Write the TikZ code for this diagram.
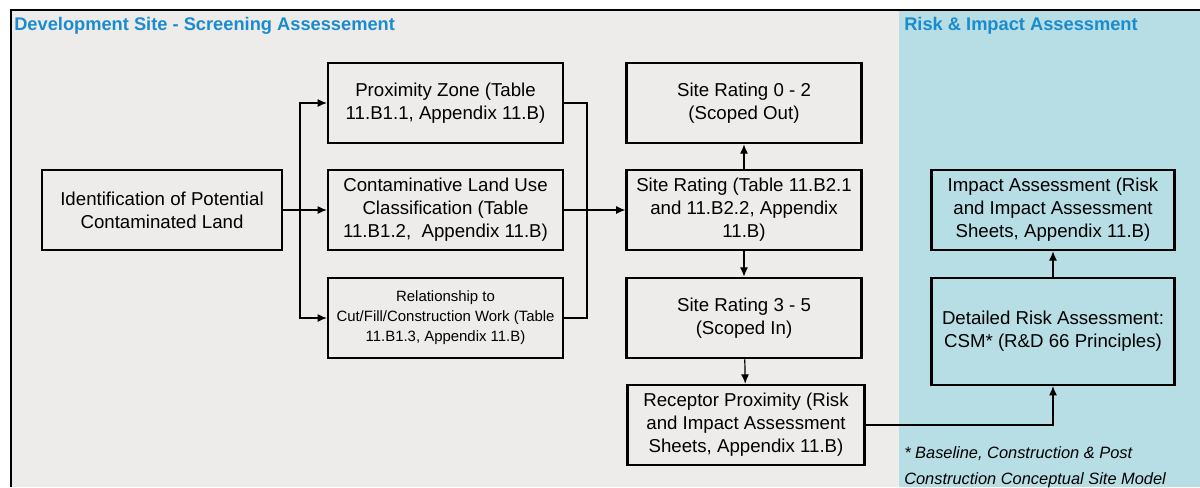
\documentclass[tikz,border=0pt]{standalone}
\usepackage{fontspec}
\setmainfont{Liberation Sans}
\usetikzlibrary{arrows.meta}
\definecolor{sitegrey}{RGB}{237,236,234}
\definecolor{riskblue}{RGB}{183,221,229}
\definecolor{headblue}{RGB}{26,140,205}
\tikzset{
  stage/.style={draw, line width=1.9pt, minimum width=176pt, minimum height=60pt,
    align=center, font=\fontsize{14}{17.25}\selectfont, inner sep=2pt},
  heading/.style={anchor=base west, inner sep=0pt, text=headblue,
    font=\fontsize{13.7}{15}\selectfont\bfseries},
  link/.style={line width=0.9pt}
}
\begin{document}
\begin{tikzpicture}[>={Latex[length=7pt,width=6pt]}, x=0.75pt, y=-0.75pt]
    \useasboundingbox (0,0) rectangle (1200,487);
    % the two panels
    \fill[sitegrey] (10,10) rectangle (899,487);
    \fill[riskblue] (899,10) rectangle (1200,487);
    \draw[line width=2.2pt] (11,487)--(11,10)--(1200,10);
    \node[heading] (screenhead) at (14,30) {Development Site - Screening Assessement};
    \node[heading] (riskhead) at (904,30) {Risk \& Impact Assessment};
    % screening boxes
    \node[stage, minimum width=180pt] (ident) at (162,210) {Identification of Potential\\Contaminated Land};
    \node[stage] (prox) at (445.5,103) {Proximity Zone (Table\\11.B1.1, Appendix 11.B)};
    \node[stage] (landuse) at (445.5,210) {Contaminative Land Use\\Classification (Table\\11.B1.2,\ \ Appendix 11.B)};
    \node[stage, font=\fontsize{11.2}{15}\selectfont] (cutfill) at (445.5,318) {Relationship to\\Cut/Fill/Construction Work (Table\\11.B1.3, Appendix 11.B)};
    \node[stage] (scopedout) at (744,103) {Site Rating 0 - 2\\(Scoped Out)};
    \node[stage] (rating) at (744,210) {Site Rating (Table 11.B2.1\\and 11.B2.2, Appendix\\11.B)};
    \node[stage] (scopedin) at (744,318) {Site Rating 3 - 5\\(Scoped In)};
    \node[stage, minimum width=178pt] (receptor) at (746,425) {Receptor Proximity (Risk\\and Impact Assessment\\Sheets, Appendix 11.B)};
    % risk boxes
    \node[stage, minimum width=182pt] (impact) at (1053,210) {Impact Assessment (Risk\\and Impact Assessment\\Sheets, Appendix 11.B)};
    \node[stage, minimum width=182pt, minimum height=80pt] (detailed) at (1053,331.5) {Detailed Risk Assessment:\\CSM* (R\&D 66 Principles)};
    \coordinate (split) at (300,210);
    \coordinate (join) at (587,210);
    % connectors
    \draw[link,->] (ident) -- (landuse);
    \draw[link,->] (split) |- (prox);
    \draw[link,->] (split) |- (cutfill);
    \draw[link] (prox) -| (join);
    \draw[link] (cutfill) -| (join);
    \draw[link,->] (landuse) -- (rating);
    \draw[link,->] (rating) -- (scopedout);
    \draw[link,->] (rating) -- (scopedin);
    \draw[link,->] (scopedin) -- (receptor);
    \draw[link,->] (receptor) -| (detailed);
    \draw[link,->] (detailed) -- (impact);
    \node[anchor=base west, inner sep=0pt, align=left, font=\fontsize{12.3}{19.5}\selectfont\itshape] (csmnote) at (904,484)
        {* Baseline, Construction \& Post\\Construction Conceptual Site Model};
\end{tikzpicture}
\end{document}
